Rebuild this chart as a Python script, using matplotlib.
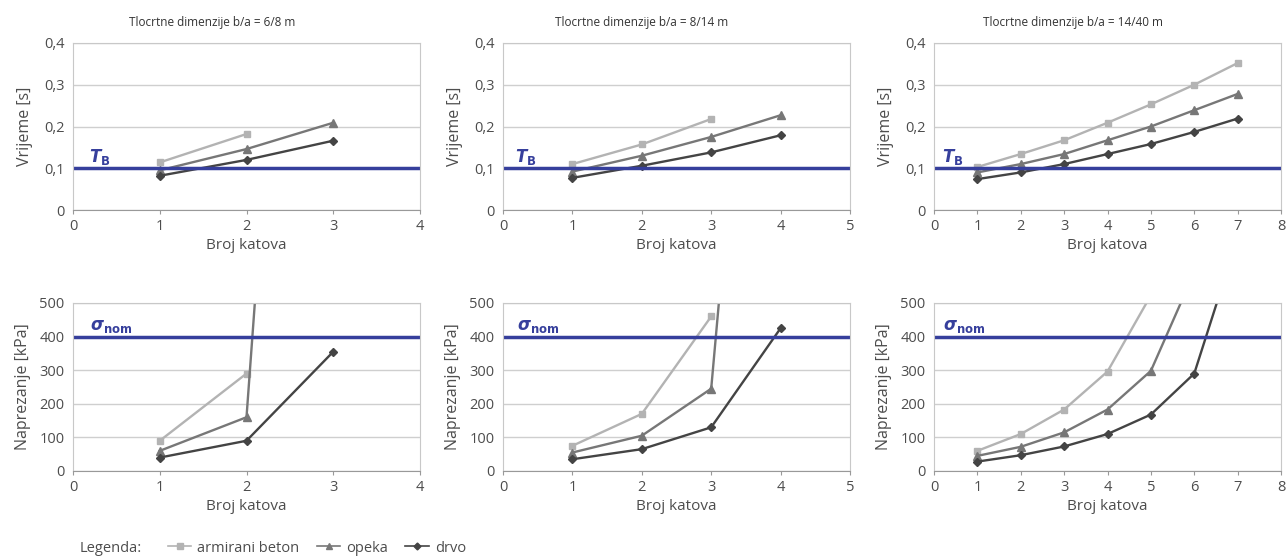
import matplotlib.pyplot as plt
import numpy as np
from matplotlib.lines import Line2D

plt.rcParams["font.family"] = ["Open Sans", "DejaVu Sans"]

# Panel titles and x-axis ranges
titles = [
    "Tlocrtne dimenzije b/a = 6/8 m",
    "Tlocrtne dimenzije b/a = 8/14 m",
    "Tlocrtne dimenzije b/a = 14/40 m",
]
x_max = [4, 5, 8]

# Period (top row), per panel
beton_t = [[0.114, 0.182], [0.11, 0.157, 0.218], [0.103, 0.134, 0.167, 0.209, 0.253, 0.300, 0.352]]
opeka_t = [[0.095, 0.146, 0.209], [0.092, 0.130, 0.175, 0.227], [0.090, 0.110, 0.134, 0.167, 0.200, 0.239, 0.278]]
drvo_t = [[0.082, 0.120, 0.166], [0.077, 0.106, 0.138, 0.179], [0.074, 0.090, 0.110, 0.134, 0.158, 0.187, 0.219]]

# Stress (bottom row), per panel -- last points run off the chart
beton_s = [[90, 290], [75, 170, 460], [60, 110, 183, 296, 523, 900, 1500]]
opeka_s = [[60, 160, 3700], [55, 105, 245, 2560], [45, 72, 115, 183, 298, 591, 1000]]
drvo_s = [[40, 90, 355], [35, 65, 130, 425], [28, 47, 73, 110, 168, 290, 694]]

T_B = 0.1
sigma_nom = 400

series_names = ["armirani beton", "opeka", "drvo"]
colors = ["#b3b3b3", "#777777", "#444444"]
markers = ["s", "^", "D"]
msizes = [5, 5.5, 4.5]
blue = "#363f9c"
txt = "#4d4d4d"

W, H = 1287, 560
fig = plt.figure(figsize=(W / 100, H / 100), dpi=100)

lefts = [73, 503, 934]
pw = 347
top_row = (43, 210)
bot_row = (303, 471)


def make_ax(left, row):
    y0, y1 = row
    return fig.add_axes([left / W, 1 - y1 / H, pw / W, (y1 - y0) / H])


def style_ax(ax, xm):
    ax.set_xlim(0, xm)
    ax.set_xticks(range(xm + 1))
    ax.grid(axis="y", color="#cfcfcf", lw=1)
    ax.set_axisbelow(True)
    for s in ax.spines.values():
        s.set_color("#c8c8c8")
    ax.spines["bottom"].set_color("#999999")
    ax.tick_params(colors=txt, labelsize=10.5, length=3, color="#999999")
    ax.tick_params(axis="y", length=0, pad=6)


for i in range(3):
    xm = x_max[i]
    # top: period
    ax = make_ax(lefts[i], top_row)
    for vals, c, m, ms in zip([beton_t[i], opeka_t[i], drvo_t[i]], colors, markers, msizes):
        x = np.arange(1, len(vals) + 1)
        ax.plot(x, vals, color=c, marker=m, ms=ms, lw=1.7)
    ax.axhline(T_B, color=blue, lw=2.5)
    ax.text(0.18, 0.115, r"$\boldsymbol{T}_\mathbf{B}$", color=blue, fontsize=12)
    ax.set_ylim(0, 0.4)
    ax.set_yticks([0, 0.1, 0.2, 0.3, 0.4])
    ax.set_yticklabels(["0", "0,1", "0,2", "0,3", "0,4"])
    style_ax(ax, xm)
    ax.set_xlabel("Broj katova", color=txt, fontsize=11, labelpad=3)
    ax.set_ylabel("Vrijeme [s]", color=txt, fontsize=11.5, labelpad=8)
    ax.set_title(titles[i], color="#333333", fontsize=8.5, pad=12, x=0.4)

    # bottom: stress
    ax = make_ax(lefts[i], bot_row)
    for vals, c, m, ms in zip([beton_s[i], opeka_s[i], drvo_s[i]], colors, markers, msizes):
        x = np.arange(1, len(vals) + 1)
        ax.plot(x, vals, color=c, marker=m, ms=ms, lw=1.7)
    ax.axhline(sigma_nom, color=blue, lw=2.5)
    ax.text(0.2, 420, r"$\boldsymbol{\sigma}_\mathbf{nom}$", color=blue, fontsize=12)
    ax.set_ylim(0, 500)
    ax.set_yticks(range(0, 501, 100))
    style_ax(ax, xm)
    ax.set_xlabel("Broj katova", color=txt, fontsize=11, labelpad=3)
    ax.set_ylabel("Naprezanje [kPa]", color=txt, fontsize=11.5, labelpad=6)

# legend
fig.text(80 / W, 1 - 548 / H, "Legenda:", color=txt, fontsize=10.5, va="center")
handles = [
    Line2D([], [], color=c, marker=m, ms=ms - 1, lw=1.2)
    for c, m, ms in zip(colors, markers, msizes)
]
fig.legend(
    handles, series_names, loc="center left", bbox_to_anchor=(155 / W, 1 - 548 / H),
    ncol=3, frameon=False, fontsize=10.5, handlelength=1.6, handletextpad=0.4,
    columnspacing=1.2, labelcolor=txt,
)

fig.savefig("out.png", dpi=100)
